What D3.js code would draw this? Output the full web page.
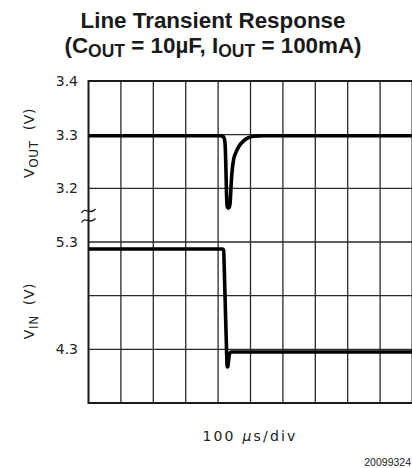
<!DOCTYPE html>
<html>
<head>
<meta charset="utf-8">
<script src="https://cdn.jsdelivr.net/npm/d3@7"></script>
<style>
  html, body { margin: 0; padding: 0; background: #fff; }
  svg { display: block; }
  .tick-label { font-family: "DejaVu Sans", sans-serif; font-size: 14px; fill: #222; }
</style>
</head>
<body>
<svg id="chart" width="412" height="468"></svg>
<script>
// Time base: 100 µs per division, 10 divisions
const timeTicks = [0, 100, 200, 300, 400, 500, 600, 700, 800, 900, 1000];

// Output voltage trace (µs, V)
const outTime = [0, 405, 414, 419, 422, 424, 426, 428, 431, 434, 437, 439, 441, 444, 448, 455, 465, 478, 492, 510, 540, 1000];
const outVolts = [3.298, 3.298, 3.297, 3.293, 3.278, 3.24, 3.19, 3.166, 3.163, 3.164, 3.172, 3.192, 3.215, 3.237, 3.254, 3.267, 3.279, 3.288, 3.294, 3.297, 3.298, 3.298];

// Input voltage trace (µs, V)
const inTime = [0, 414, 417, 420, 423, 426, 428, 430, 432, 434, 437, 442, 1000];
const inVolts = [5.235, 5.235, 5.225, 4.95, 4.62, 4.3, 4.135, 4.14, 4.19, 4.24, 4.268, 4.275, 4.275];

// Grid rows: upper panel (V_OUT) and lower panel (V_IN)
const outTicks = [3.4, 3.3, 3.2];
const inTicks = [5.3, 4.3];
const inGrid = [5.3, 4.8, 4.3, 3.8];

(function draw() {
  const svg = d3.select("#chart");

  const plotLeft = 88.5, plotRight = 412.5, plotTop = 81, plotBottom = 403;
  const rowH = (plotBottom - plotTop) / 6;

  const x = d3.scaleLinear().domain([0, 1000]).range([plotLeft, plotRight]);
  const yOut = d3.scaleLinear().domain([3.2, 3.4]).range([plotTop + 2 * rowH, plotTop]);
  const yIn = d3.scaleLinear().domain([3.8, 5.3]).range([plotBottom, plotTop + 3 * rowH]);

  // Title
  const title = svg.append("g")
    .attr("font-family", "'Liberation Sans', Arial, sans-serif")
    .attr("font-weight", "bold")
    .attr("fill", "#1a1a1a")
    .attr("text-anchor", "middle");
  title.append("text").attr("x", 213).attr("y", 27.5).attr("font-size", 22.4)
    .text("Line Transient Response");
  const t2 = title.append("text").attr("x", 213).attr("y", 53).attr("font-size", 22.4);
  t2.append("tspan").text("(C");
  t2.append("tspan").attr("font-size", 17.5).attr("dy", 4).text("OUT");
  t2.append("tspan").attr("dy", -4).text(" = 10µF, I");
  t2.append("tspan").attr("font-size", 17.5).attr("dy", 4).text("OUT");
  t2.append("tspan").attr("dy", -4).text(" = 100mA)");

  // Grid
  const grid = svg.append("g");
  grid.selectAll("line.v").data(timeTicks.slice(1, -1)).join("line")
    .attr("x1", d => x(d)).attr("x2", d => x(d))
    .attr("y1", plotTop).attr("y2", plotBottom)
    .attr("stroke", "#2a2a2a").attr("stroke-width", 1.3);
  grid.selectAll("line.ho").data(outTicks).join("line")
    .attr("x1", plotLeft).attr("x2", plotRight)
    .attr("y1", d => yOut(d)).attr("y2", d => yOut(d))
    .attr("stroke", "#2a2a2a").attr("stroke-width", 1.3);
  grid.selectAll("line.hi").data(inGrid).join("line")
    .attr("x1", plotLeft).attr("x2", plotRight)
    .attr("y1", d => yIn(d)).attr("y2", d => yIn(d))
    .attr("stroke", "#2a2a2a").attr("stroke-width", 1.3);
  grid.append("rect")
    .attr("x", plotLeft).attr("y", plotTop)
    .attr("width", plotRight - plotLeft).attr("height", plotBottom - plotTop)
    .attr("fill", "none").attr("stroke", "#1a1a1a").attr("stroke-width", 2);

  // Axis break mark
  const brk = svg.append("g").attr("fill", "none").attr("stroke", "#1a1a1a").attr("stroke-width", 1.4);
  [211, 220.5].forEach(cy => {
    brk.append("path")
      .attr("d", `M${plotLeft - 7},${cy + 2} C${plotLeft - 3},${cy - 5} ${plotLeft + 1},${cy + 5} ${plotLeft + 7},${cy - 2}`);
  });

  // Tick labels
  svg.selectAll("text.to").data(outTicks).join("text")
    .attr("class", "tick-label")
    .attr("x", 78).attr("y", d => yOut(d)).attr("dy", "0.36em")
    .attr("text-anchor", "end").text(d => d.toFixed(1));
  svg.selectAll("text.ti").data(inTicks).join("text")
    .attr("class", "tick-label")
    .attr("x", 78).attr("y", d => yIn(d)).attr("dy", "0.36em")
    .attr("text-anchor", "end").text(d => d.toFixed(1));

  // Axis titles
  function axisTitle(cy, sub) {
    const t = svg.append("text")
      .attr("class", "tick-label")
      .attr("font-size", 16)
      .attr("text-anchor", "middle")
      .attr("letter-spacing", 0.6)
      .attr("transform", `translate(34,${cy}) rotate(-90)`);
    t.append("tspan").text("V");
    t.append("tspan").attr("font-size", 12).attr("dy", 4).text(sub);
    t.append("tspan").attr("dy", -4).attr("xml:space", "preserve").text("  (V)");
  }
  axisTitle(143, "OUT");
  axisTitle(311, "IN");

  // Traces
  const line = d3.line().curve(d3.curveMonotoneX);
  svg.append("path")
    .attr("d", line(outTime.map((t, i) => [x(t), yOut(outVolts[i])])))
    .attr("fill", "none").attr("stroke", "#000").attr("stroke-width", 3.6)
    .attr("stroke-linejoin", "round");
  svg.append("path")
    .attr("d", line(inTime.map((t, i) => [x(t), yIn(inVolts[i])])))
    .attr("fill", "none").attr("stroke", "#000").attr("stroke-width", 3.6)
    .attr("stroke-linejoin", "round");

  // Time base label
  const xl = svg.append("text")
    .attr("class", "tick-label")
    .attr("x", 250).attr("y", 441)
    .attr("text-anchor", "middle")
    .attr("letter-spacing", 2.2)
    .attr("xml:space", "preserve");
  xl.append("tspan").text("100 ");
  xl.append("tspan").attr("font-style", "italic").text("µ");
  xl.append("tspan").text("s/div");

  // Figure number
  svg.append("text")
    .attr("x", 411).attr("y", 466)
    .attr("text-anchor", "end")
    .attr("font-family", "'Liberation Sans', Arial, sans-serif")
    .attr("font-size", 10.5).attr("fill", "#222")
    .text("20099324");
})();
</script>
</body>
</html>
